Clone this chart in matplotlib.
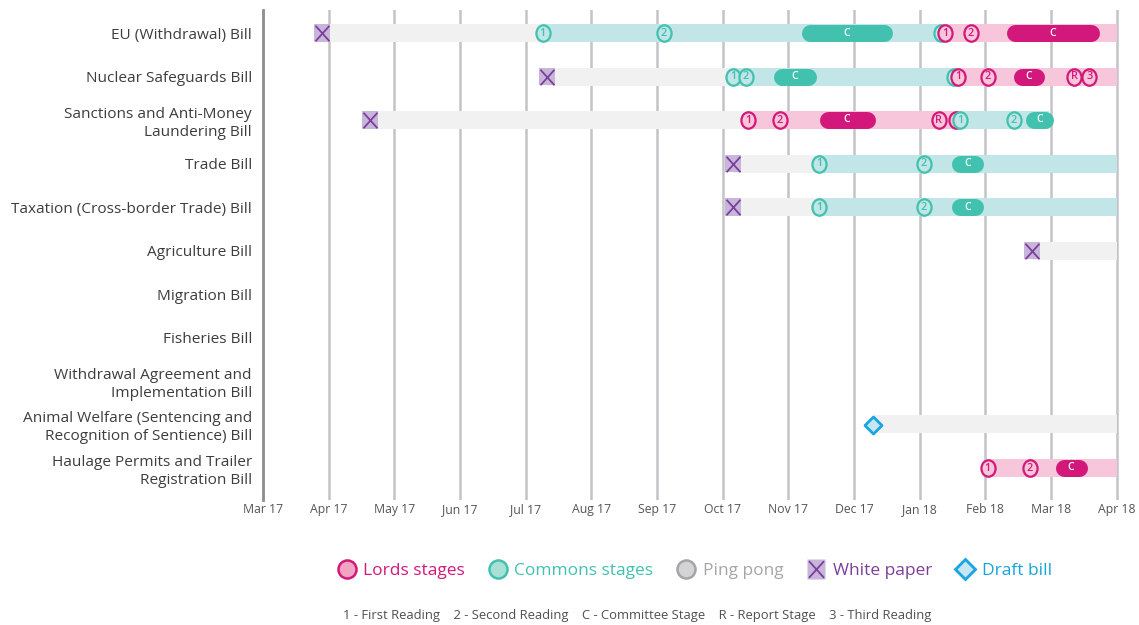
import matplotlib
matplotlib.use("Agg")
import matplotlib.pyplot as plt
from matplotlib.lines import Line2D
from matplotlib.path import Path
from matplotlib.transforms import Affine2D
from matplotlib.legend_handler import HandlerTuple
import calendar

plt.rcParams['font.family'] = ['Open Sans', 'DejaVu Sans']

# ---------------- data ----------------
bills = ["EU (Withdrawal) Bill", "Nuclear Safeguards Bill",
         "Sanctions and Anti-Money\nLaundering Bill", "Trade Bill",
         "Taxation (Cross-border Trade) Bill", "Agriculture Bill",
         "Migration Bill", "Fisheries Bill",
         "Withdrawal Agreement and\nImplementation Bill",
         "Animal Welfare (Sentencing and\nRecognition of Sentience) Bill",
         "Haulage Permits and Trailer\nRegistration Bill"]

month_labels = ["Mar 17", "Apr 17", "May 17", "Jun 17", "Jul 17", "Aug 17",
                "Sep 17", "Oct 17", "Nov 17", "Dec 17", "Jan 18", "Feb 18",
                "Mar 18", "Apr 18"]

# bar segments (pre-introduction / Commons / Lords)
seg_bill = [0, 0, 0, 1, 1, 1, 2, 2, 2, 3, 3, 4, 4, 5, 9, 10]
seg_start = ["2017-03-29", "2017-07-09", "2018-01-12",
             "2017-07-11", "2017-10-06", "2018-01-17",
             "2017-04-20", "2017-10-13", "2018-01-19",
             "2017-10-06", "2017-11-15",
             "2017-10-06", "2017-11-15",
             "2018-02-21", "2017-12-10", "2018-02-02"]
seg_end = ["2017-07-09", "2018-01-12", "2018-04-01",
           "2017-10-06", "2018-01-17", "2018-04-01",
           "2017-10-13", "2018-01-19", "2018-02-28",
           "2017-11-15", "2018-04-01",
           "2017-11-15", "2018-04-01",
           "2018-04-01", "2018-04-01", "2018-04-01"]
seg_kind = ["pre", "commons", "lords",
            "pre", "commons", "lords",
            "pre", "lords", "commons",
            "pre", "commons",
            "pre", "commons",
            "pre", "pre", "lords"]

# reading / report stages (drawn in this order)
stage_bill = [0, 0, 0, 0, 0,
              1, 1, 1, 1, 1, 1, 1,
              2, 2, 2, 2, 2, 2,
              3, 3, 4, 4, 10, 10]
stage_date = ["2017-07-09", "2017-09-04", "2018-01-11", "2018-01-13", "2018-01-25",
              "2017-10-06", "2017-10-12", "2018-01-17", "2018-01-19", "2018-02-02",
              "2018-03-12", "2018-03-19",
              "2017-10-13", "2017-10-28", "2018-01-10", "2018-01-18", "2018-01-20",
              "2018-02-13",
              "2017-11-15", "2018-01-03", "2017-11-15", "2018-01-03",
              "2018-02-02", "2018-02-20"]
stage_house = ["C", "C", "C", "L", "L",
               "C", "C", "C", "L", "L", "L", "L",
               "L", "L", "L", "L", "C", "C",
               "C", "C", "C", "C", "L", "L"]
stage_label = ["1", "2", "3", "1", "2",
               "1", "2", "3", "1", "2", "R", "3",
               "1", "2", "R", "3", "1", "2",
               "1", "2", "1", "2", "1", "2"]

# committee stages
comm_bill = [0, 0, 1, 1, 2, 2, 3, 4, 10]
comm_start = ["2017-11-07", "2018-02-10", "2017-10-25", "2018-02-13", "2017-11-15",
              "2018-02-18", "2018-01-16", "2018-01-16", "2018-03-03"]
comm_end = ["2017-12-19", "2018-03-24", "2017-11-14", "2018-02-26", "2017-12-11",
            "2018-03-02", "2018-01-31", "2018-01-31", "2018-03-18"]
comm_house = ["C", "L", "C", "L", "L", "C", "C", "C", "L"]

white_paper_bill = [0, 1, 2, 3, 4, 5]
white_paper_date = ["2017-03-29", "2017-07-11", "2017-04-20", "2017-10-06",
                    "2017-10-06", "2018-02-21"]

draft_bill_bill = [9]
draft_bill_date = ["2017-12-10"]

# ---------------- styles ----------------
LORDS_DARK = "#d2187a"
LORDS_LIGHT = "#f7c6da"
COMMONS_DARK = "#41c1ae"
COMMONS_LIGHT = "#c2e5e8"
PRE_GREY = "#f0f1f0"
GRID = "#c4c3c8"
WP_FILL = "#c8b5da"
WP_LINE = "#7c3f9c"
DB_EDGE = "#19a5df"
DB_FILL = "#c6e6f6"
seg_colors = {"pre": PRE_GREY, "commons": COMMONS_LIGHT, "lords": LORDS_LIGHT}
dark = {"C": COMMONS_DARK, "L": LORDS_DARK}
light = {"C": COMMONS_LIGHT, "L": LORDS_LIGHT}


def to_month(s):
    y, m, d = (int(v) for v in s.split("-"))
    ndays = calendar.monthrange(y, m)[1]
    return (y - 2017) * 12 + (m - 3) + (d - 1) / ndays


W, H = 1139, 625
fig = plt.figure(figsize=(W / 100, H / 100), dpi=100)
XMAX = 13.1
ppm = 65.67  # pixels per month
ax = fig.add_axes([263 / W, 1 - 500 / H, XMAX * ppm / W, 490 / H])
row_px = 43.5
ax.set_xlim(0, XMAX)
ax.set_ylim((500 - 33) / row_px, (10 - 33) / row_px)

ax.set_xticks(range(len(month_labels)))
ax.set_xticklabels(month_labels, fontsize=8.8, color="#555555")
ax.set_yticks(range(len(bills)))
ax.set_yticklabels(bills, fontsize=11.1, color="#3d3d3d", linespacing=1.25)
ax.tick_params(axis="both", length=0)
ax.tick_params(axis="x", pad=2)
ax.tick_params(axis="y", pad=8)
ax.grid(axis="x", color=GRID, lw=1.8, zorder=0)
ax.set_axisbelow(True)
for sp in ["top", "right", "bottom"]:
    ax.spines[sp].set_visible(False)
ax.spines["left"].set_color("#8d8d92")
ax.spines["left"].set_linewidth(2)
ax.spines["left"].set_zorder(6)

bar_h = 18 / row_px
for b, s, e, k in zip(seg_bill, seg_start, seg_end, seg_kind):
    x0, x1 = to_month(s), to_month(e)
    ax.barh(b, x1 - x0, left=x0, height=bar_h, color=seg_colors[k],
            linewidth=0, zorder=2)

# committee pills
pill_px = 17
cap = (pill_px / 2) / ppm
for b, s, e, h in zip(comm_bill, comm_start, comm_end, comm_house):
    x0, x1 = to_month(s) + cap, to_month(e) - cap
    ax.plot([x0, x1], [b, b], color=dark[h], lw=pill_px * 0.72,
            solid_capstyle="round", zorder=3)
    ax.text((x0 + x1) / 2, b, "C", color="white", fontsize=7.5,
            fontweight="semibold", ha="center", va="center", zorder=3.5)

# stage circles (slightly oval)
ell = Path.unit_circle().transformed(Affine2D().scale(0.86, 1.0))
for i, (b, d, h, lab) in enumerate(zip(stage_bill, stage_date, stage_house, stage_label)):
    x = to_month(d)
    z = 4 + i * 0.01
    ax.scatter([x], [b], marker=ell, s=140, facecolor=light[h],
               edgecolor=dark[h], linewidths=1.6, zorder=z)
    ax.text(x, b + 0.01, lab, color=dark[h], fontsize=7.8, fontweight="semibold",
            ha="center", va="center", zorder=z + 0.005)

# white papers
sq = Path([(-0.9, -1), (0.9, -1), (0.9, 1), (-0.9, 1), (-0.9, -1)],
          [Path.MOVETO, Path.LINETO, Path.LINETO, Path.LINETO, Path.CLOSEPOLY])
xm = Path([(-0.9, -1), (0.9, 1), (-0.9, 1), (0.9, -1)],
          [Path.MOVETO, Path.LINETO, Path.MOVETO, Path.LINETO])
wx = [to_month(d) for d in white_paper_date]
ax.scatter(wx, white_paper_bill, marker=sq, s=160, facecolor=WP_FILL,
           edgecolor="none", zorder=5)
ax.scatter(wx, white_paper_bill, marker=xm, s=125, color=WP_LINE,
           linewidths=1.3, zorder=5.1)

# draft bills
dx = [to_month(d) for d in draft_bill_date]
ax.scatter(dx, draft_bill_bill, marker="D", s=75, facecolor=DB_FILL,
           edgecolor=DB_EDGE, linewidths=2, zorder=5)

# ---------------- legend ----------------
h_lords = Line2D([], [], ls="none", marker="o", ms=13, mfc="#f1a5c3",
                 mec=LORDS_DARK, mew=1.8)
h_comm = Line2D([], [], ls="none", marker="o", ms=13, mfc="#a9e0d6",
                mec=COMMONS_DARK, mew=1.8)
h_ping = Line2D([], [], ls="none", marker="o", ms=13, mfc="#d4d4d6",
                mec="#a5a5a8", mew=1.8)
h_wp1 = Line2D([], [], ls="none", marker=sq, ms=14, mfc=WP_FILL, mec="none")
h_wp2 = Line2D([], [], ls="none", marker=xm, ms=12, mec=WP_LINE, mew=1.3)
h_db = Line2D([], [], ls="none", marker="D", ms=10, mfc=DB_FILL,
              mec=DB_EDGE, mew=2)
leg = fig.legend([h_lords, h_comm, h_ping, (h_wp1, h_wp2), h_db],
                 ["Lords stages", "Commons stages", "Ping pong", "White paper",
                  "Draft bill"],
                 handler_map={tuple: HandlerTuple(ndivide=1, pad=0)},
                 loc="center", bbox_to_anchor=(694 / W, 1 - 571 / H), ncol=5,
                 frameon=False, fontsize=12.5, handletextpad=0.35,
                 columnspacing=1.3, handlelength=1.2)
for t, c in zip(leg.get_texts(), [LORDS_DARK, COMMONS_DARK, "#a6a6a8",
                                  "#7b3f98", "#17a3dd"]):
    t.set_color(c)

fig.text(637 / W, 1 - 615 / H,
         "1 - First Reading    2 - Second Reading    C - Committee Stage    "
         "R - Report Stage    3 - Third Reading",
         ha="center", va="center", fontsize=9.4, color="#505050")

fig.savefig("out.png", dpi=100)
